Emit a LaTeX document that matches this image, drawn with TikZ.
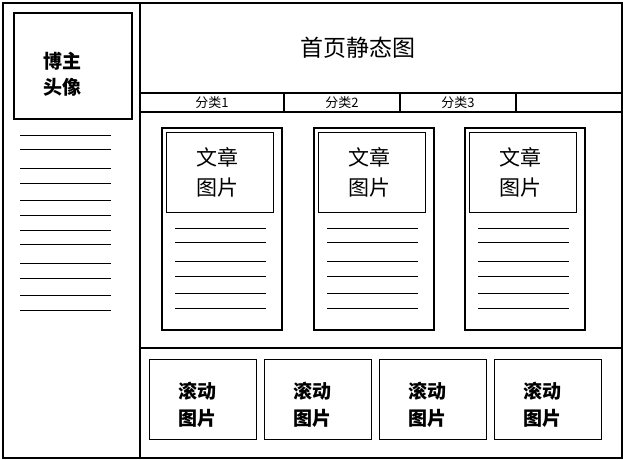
\documentclass[tikz,border=0pt]{standalone}
\usepackage{fontspec}
\newfontfamily\cjk{Noto Sans CJK SC}
\tikzset{
 thick box/.style={draw, line width=1.6pt},
 thin box/.style={draw, line width=0.9pt},
 rule/.style={line width=0.9pt},
 lbl/.style={font=\cjk\fontsize{21}{30}\selectfont, align=center, inner sep=0pt},
 tab/.style={font=\cjk\fontsize{13}{14}\selectfont, inner sep=0pt},
}
\begin{document}
\begin{tikzpicture}[x=1pt,y=-1pt]
\useasboundingbox (0,0) rectangle (623,459);
\node[thick box, minimum width=619pt, minimum height=455pt, inner sep=0pt, anchor=north west] (outer) at (2,2) {};
\draw[line width=1.6pt] (140,2) -- (140,457);
\draw[line width=1.6pt] (140,93) -- (621,93);
\draw[line width=1.6pt] (140,112) -- (621,112);
\draw[line width=1.6pt] (140,348) -- (621,348);
\draw[line width=1.6pt] (284,93) -- (284,112) (400,93) -- (400,112) (516,93) -- (516,112);
\node[font=\cjk\fontsize{23}{26}\selectfont, inner sep=0pt] (title) at (358,48) {首页静态图};
\node[tab] (t1) at (212,103) {分类1};
\node[tab] (t2) at (342,103) {分类2};
\node[tab] (t3) at (458,103) {分类3};
\node[thick box, minimum width=118pt, minimum height=106pt, inner sep=0pt, anchor=north west] (avatar) at (13,12) {};
\node[lbl, font=\cjk\bfseries\fontsize{19}{26}\selectfont] (avl) at (62,74) {博主\\头像};
\foreach \y in {135,149,168,183,200,215,230,244,263,278,295,310}
  \draw[rule] (20,\y) -- (111,\y);
\foreach \x/\n in {161/a,313/b,464/c}{
  \node[thick box, minimum width=120pt, minimum height=202pt, inner sep=0pt, anchor=north west] (card\n) at (\x,127) {};
  \node[thin box, minimum width=107pt, minimum height=80pt, inner sep=0pt, anchor=north west] (img\n) at (\x+5,132) {};
  \node[lbl] (il\n) at (\x+56,172) {文章\\图片};
  \foreach \y in {228,242,261,276,293,308}
    \draw[rule] (\x+14,\y) -- (\x+105,\y);
}
\foreach \x/\n in {149/a,264/b,379/c,494/d}{
  \node[thin box, minimum width=107pt, minimum height=80pt, inner sep=0pt, anchor=north west] (sc\n) at (\x,359) {};
  \node[lbl, font=\cjk\bfseries\fontsize{19}{27}\selectfont] (sl\n) at (\x+48,405) {滚动\\图片};
}
\end{tikzpicture}
\end{document}
